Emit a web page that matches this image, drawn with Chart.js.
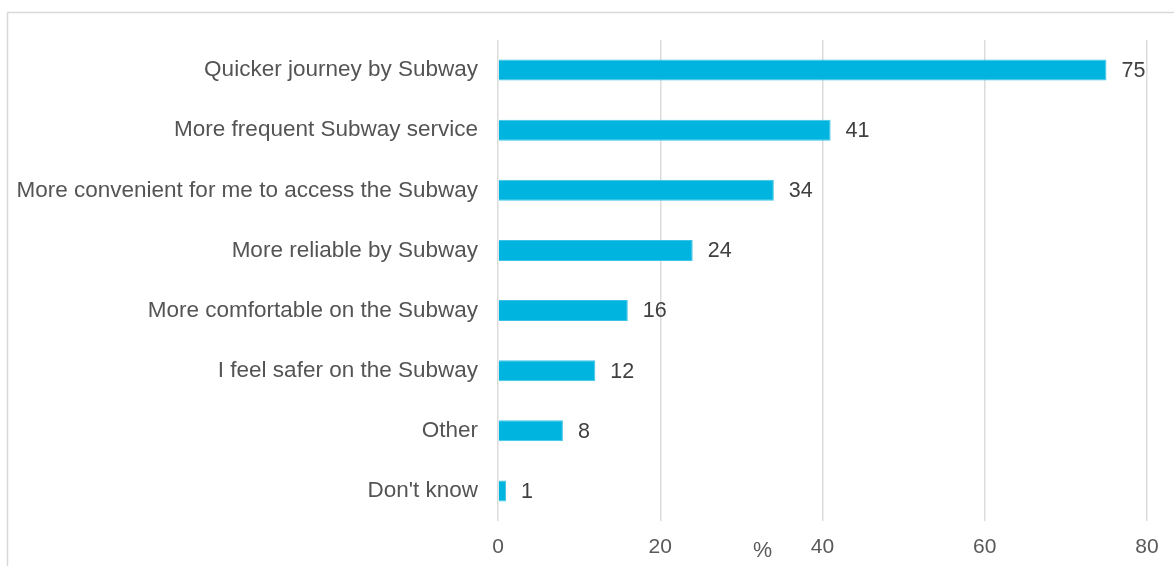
<!DOCTYPE html>
<html>
<head>
<meta charset="utf-8">
<script src="https://cdn.jsdelivr.net/npm/chart.js@4"></script>
<style>
  html, body { margin: 0; padding: 0; background: #ffffff; }
  #wrap { width: 1174px; height: 566px; position: relative; }
</style>
</head>
<body>
<div id="wrap"><canvas id="chart" width="1174" height="566"></canvas></div>
<script>
// Reasons for choosing the Subway (% of respondents)
const categories = [
  'Quicker journey by Subway',
  'More frequent Subway service',
  'More convenient for me to access the Subway',
  'More reliable by Subway',
  'More comfortable on the Subway',
  'I feel safer on the Subway',
  'Other',
  "Don't know"
];
const shares = [75, 41, 34, 24, 16, 12, 8, 1];
const xTicks = [0, 20, 40, 60, 80];
const unitLabel = '%';

const FONT = '"Liberation Sans", Arial, sans-serif';

// Light frame around the figure (open on the right and bottom)
const framePlugin = {
  id: 'frame',
  beforeDraw(chart) {
    const ctx = chart.ctx;
    ctx.save();
    ctx.strokeStyle = '#d9d9d9';
    ctx.lineWidth = 1.5;
    ctx.strokeRect(7.5, 12.5, chart.width + 20, chart.height + 20);
    ctx.restore();
  }
};

// Value labels to the right of each bar, plus the unit label under the axis
const valueLabels = {
  id: 'valueLabels',
  afterDatasetsDraw(chart) {
    const ctx = chart.ctx;
    const meta = chart.getDatasetMeta(0);
    ctx.save();
    ctx.font = '21.5px ' + FONT;
    ctx.fillStyle = '#404040';
    ctx.textAlign = 'left';
    ctx.textBaseline = 'middle';
    meta.data.forEach((bar, i) => {
      ctx.fillText(String(chart.data.datasets[0].data[i]), bar.x + 15, bar.y + 1);
    });
    const xs = chart.scales.x;
    ctx.fillStyle = '#595959';
    ctx.textAlign = 'center';
    ctx.fillText(unitLabel, xs.getPixelForValue(32.6), chart.chartArea.bottom + 30);
    ctx.restore();
  }
};

new Chart(document.getElementById('chart'), {
  type: 'bar',
  data: {
    labels: categories,
    datasets: [{
      data: shares,
      backgroundColor: '#00b4e0',
      borderColor: '#3cc4e8',
      borderWidth: 1,
      barPercentage: 0.7,
      categoryPercentage: 0.5
    }]
  },
  options: {
    indexAxis: 'y',
    responsive: false,
    animation: false,
    devicePixelRatio: 1,
    layout: { padding: { top: 40, right: 27, left: 0, bottom: 0 } },
    plugins: {
      legend: { display: false },
      tooltip: { enabled: false }
    },
    scales: {
      x: {
        min: 0,
        max: 80,
        afterBuildTicks(scale) { scale.ticks = xTicks.map(v => ({ value: v })); },
        grid: { color: '#dcdcdc', lineWidth: 1.5, drawTicks: false },
        border: { display: false },
        ticks: {
          padding: 14,
          color: '#595959',
          font: { family: FONT, size: 21 }
        },
        afterFit(scale) { scale.height = 45; }
      },
      y: {
        grid: { display: false, drawTicks: false },
        border: { display: false },
        ticks: {
          padding: 20,
          color: '#545454',
          font: { family: FONT, size: 22.5 }
        },
        afterFit(scale) { scale.width = 498; }
      }
    }
  },
  plugins: [framePlugin, valueLabels]
});
</script>
</body>
</html>
